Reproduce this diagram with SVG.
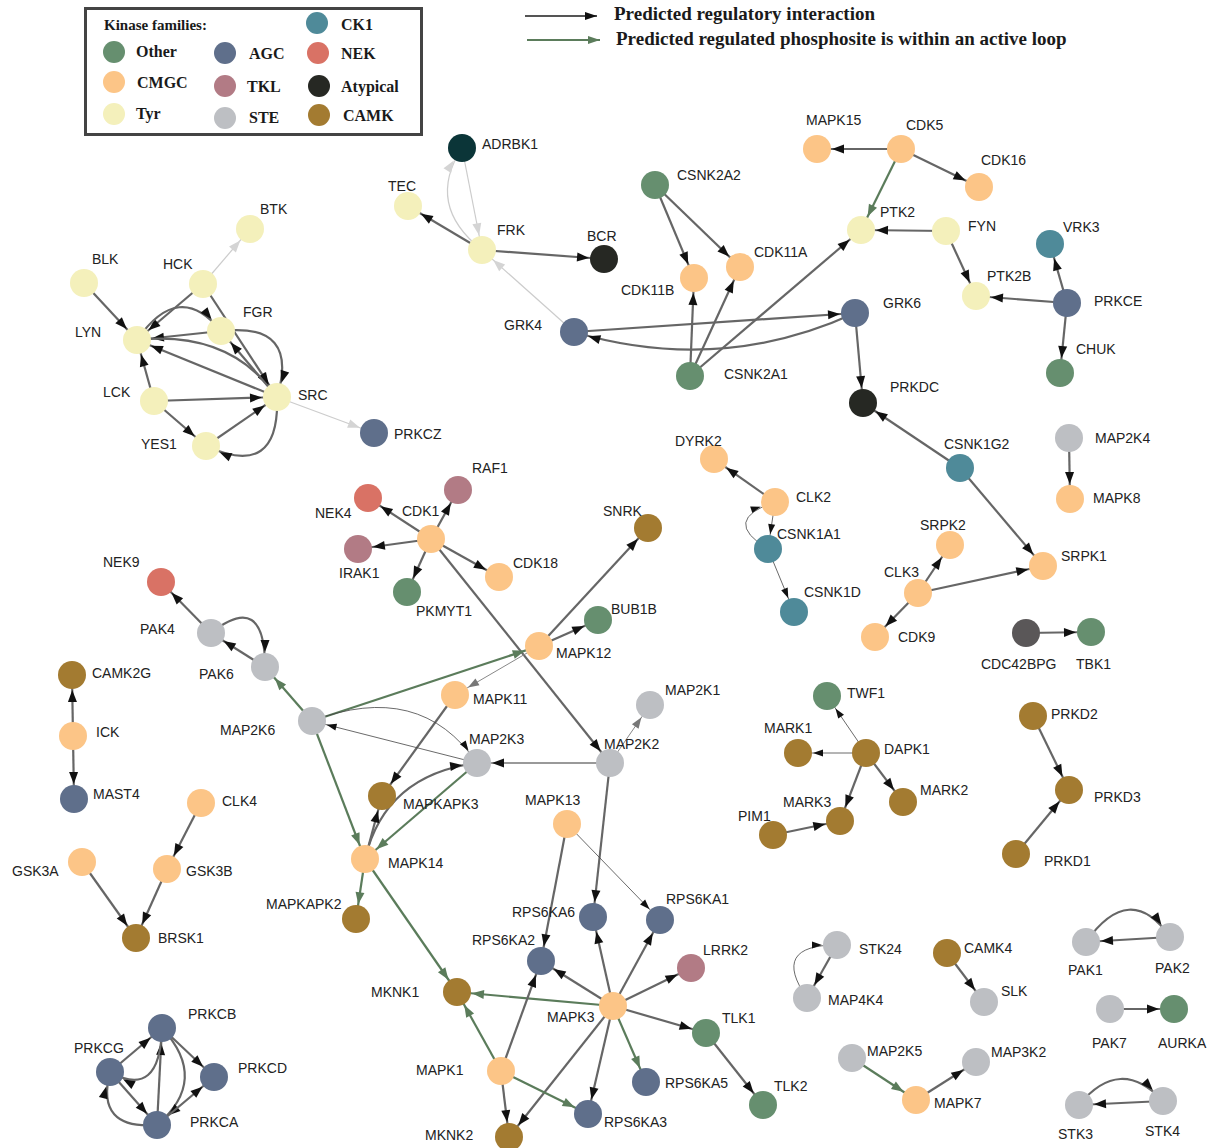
<svg xmlns="http://www.w3.org/2000/svg" width="1216" height="1148" viewBox="0 0 1216 1148">
<style>
.lb{font-family:"Liberation Sans",Arial,sans-serif;font-size:14px;fill:#222}
.lg{font-family:"Liberation Serif","Times New Roman",serif;font-weight:bold;fill:#1a1a1a}
.other{fill:#668f6f}.cmgc{fill:#fcc587}.tyr{fill:#f4f0bb}.agc{fill:#5f6f8b}.tkl{fill:#b27b85}
.ste{fill:#bdbfc3}.ck1{fill:#4f8a99}.nek{fill:#d97265}.atyp{fill:#262823}.camk{fill:#a37b31}
.adr{fill:#0b3538}.cdc{fill:#5a5758}
#edges path{fill:none}
.d{stroke:#666;stroke-width:2.2;marker-end:url(#ad)}
.d2{stroke:#777;stroke-width:1.5;marker-end:url(#ad)}
.g{stroke:#5b7c5b;stroke-width:2.2;marker-end:url(#ag)}
.t{stroke:#444;stroke-width:0.8;marker-end:url(#at)}
.m{stroke:#888;stroke-width:1;marker-end:url(#am)}
.l{stroke:#ccc;stroke-width:1.2;marker-end:url(#al)}
</style>
<defs>
<marker id="ad" markerUnits="userSpaceOnUse" orient="auto" markerWidth="1" markerHeight="1" style="overflow:visible"><path d="M-15,0 L-27,-4.5 L-27,4.5Z" fill="#111"/></marker>
<marker id="ag" markerUnits="userSpaceOnUse" orient="auto" markerWidth="1" markerHeight="1" style="overflow:visible"><path d="M-15,0 L-27,-4.5 L-27,4.5Z" fill="#5b7c5b"/></marker>
<marker id="at" markerUnits="userSpaceOnUse" orient="auto" markerWidth="1" markerHeight="1" style="overflow:visible"><path d="M-15,0 L-25,-3.5 L-25,3.5Z" fill="#111"/></marker>
<marker id="am" markerUnits="userSpaceOnUse" orient="auto" markerWidth="1" markerHeight="1" style="overflow:visible"><path d="M-15,0 L-26,-4 L-26,4Z" fill="#777"/></marker>
<marker id="al" markerUnits="userSpaceOnUse" orient="auto" markerWidth="1" markerHeight="1" style="overflow:visible"><path d="M-15,0 L-27,-4.5 L-27,4.5Z" fill="#d4d4d4"/></marker>
<marker id="lgd" markerUnits="userSpaceOnUse" orient="auto" markerWidth="1" markerHeight="1" style="overflow:visible"><path d="M0,0 L-12,-4 L-12,4Z" fill="#111"/></marker>
<marker id="lgg" markerUnits="userSpaceOnUse" orient="auto" markerWidth="1" markerHeight="1" style="overflow:visible"><path d="M0,0 L-12,-4 L-12,4Z" fill="#5b7c5b"/></marker>
</defs>
<rect width="1216" height="1148" fill="#fff"/>

<g id="legend">
<rect x="85.5" y="8.5" width="336" height="126" fill="#fff" stroke="#444" stroke-width="3"/>
<text class="lg" x="104" y="30" font-size="15">Kinase families:</text>
<circle cx="317" cy="23" r="11" class="ck1"/><text class="lg" x="341" y="30" font-size="16">CK1</text>
<circle cx="114" cy="52" r="11" class="other"/><text class="lg" x="136" y="57" font-size="16">Other</text>
<circle cx="225" cy="53" r="11" class="agc"/><text class="lg" x="249" y="59" font-size="16">AGC</text>
<circle cx="318" cy="53" r="11" class="nek"/><text class="lg" x="341" y="59" font-size="16">NEK</text>
<circle cx="114" cy="82" r="11" class="cmgc"/><text class="lg" x="137" y="88" font-size="16">CMGC</text>
<circle cx="225" cy="86" r="11" class="tkl"/><text class="lg" x="247" y="92" font-size="16">TKL</text>
<circle cx="319" cy="86" r="11" class="atyp"/><text class="lg" x="341" y="92" font-size="16">Atypical</text>
<circle cx="114" cy="114" r="11" class="tyr"/><text class="lg" x="136" y="119" font-size="16">Tyr</text>
<circle cx="225" cy="118" r="11" class="ste"/><text class="lg" x="249" y="123" font-size="16">STE</text>
<circle cx="319" cy="115" r="11" class="camk"/><text class="lg" x="343" y="121" font-size="16">CAMK</text>
</g>
<g id="legend-edges">
<path d="M525,16 L597,16" stroke="#555" stroke-width="1.8" marker-end="url(#lgd)"/>
<text class="lg" x="614" y="20" font-size="19">Predicted regulatory interaction</text>
<path d="M527,40 L600,40" stroke="#5b7c5b" stroke-width="1.8" marker-end="url(#lgg)"/>
<text class="lg" x="616" y="45" font-size="19">Predicted regulated phosphosite is within an active loop</text>
</g>

<g id="edges">
<path class="l" d="M203,284 L250,229"/>
<path class="d" d="M84,283 L137,340"/>
<path class="d" d="M203,284 L137,340"/>
<path class="d" d="M137,340 Q179,279 221,331"/>
<path class="d" d="M221,331 L137,340"/>
<path class="d" d="M203,284 L277,397"/>
<path class="d" d="M221,331 Q300,322 277,397"/>
<path class="d" d="M137,340 Q230,330 277,397"/>
<path class="d" d="M277,397 L137,340"/>
<path class="d" d="M277,397 L221,331"/>
<path class="d" d="M154,401 L137,340"/>
<path class="d" d="M154,401 L277,397"/>
<path class="d" d="M154,401 L206,446"/>
<path class="d" d="M206,446 L277,397"/>
<path class="d" d="M277,397 Q280,480 206,446"/>
<path class="l" d="M277,397 L374,433"/>
<path class="l" d="M482,250 Q425,205 462,148"/>
<path class="l" d="M462,148 L482,250"/>
<path class="d" d="M482,250 L408,206"/>
<path class="d" d="M482,250 L604,259"/>
<path class="l" d="M574,332 L482,250"/>
<path class="d" d="M655,185 L694,278"/>
<path class="d" d="M655,185 L740,267"/>
<path class="d" d="M690,376 L694,278"/>
<path class="d" d="M690,376 L740,267"/>
<path class="d" d="M690,376 L861,230"/>
<path class="d" d="M901,149 L817,149"/>
<path class="d" d="M901,149 L979,187"/>
<path class="g" d="M901,149 L861,230"/>
<path class="d" d="M946,231 L861,230"/>
<path class="d" d="M946,231 L976,296"/>
<path class="d" d="M1067,303 L1050,244"/>
<path class="d" d="M1067,303 L976,296"/>
<path class="d" d="M1067,303 L1060,373"/>
<path class="d" d="M574,332 L855,313"/>
<path class="d" d="M855,313 Q720,375 574,332"/>
<path class="d" d="M855,313 L863,403"/>
<path class="d" d="M960,468 L863,403"/>
<path class="d" d="M960,468 L1043,566"/>
<path class="d" d="M431,539 L458,490"/>
<path class="d" d="M431,539 L368,498"/>
<path class="d" d="M431,539 L358,549"/>
<path class="d" d="M431,539 L407,592"/>
<path class="d" d="M431,539 L499,577"/>
<path class="d" d="M431,539 L610,763"/>
<path class="d" d="M539,646 L648,528"/>
<path class="d" d="M539,646 L598,620"/>
<path class="g" d="M312,721 L539,646"/>
<path class="m" d="M539,646 L455,695"/>
<path class="d" d="M455,695 L382,796"/>
<path class="t" d="M312,721 Q420,680 477,763"/>
<path class="t" d="M477,763 L312,721"/>
<path class="d2" d="M610,763 L477,763"/>
<path class="m" d="M610,763 L650,705"/>
<path class="g" d="M477,763 L365,859"/>
<path class="d" d="M365,859 Q385,775 477,763"/>
<path class="d" d="M365,859 L382,796"/>
<path class="g" d="M312,721 L365,859"/>
<path class="g" d="M312,721 L265,667"/>
<path class="g" d="M365,859 L356,919"/>
<path class="g" d="M365,859 L457,992"/>
<path class="d" d="M610,763 L593,917"/>
<path class="d" d="M211,633 L161,582"/>
<path class="d" d="M265,667 L211,633"/>
<path class="d" d="M211,633 Q265,590 265,667"/>
<path class="d" d="M73,736 L72,675"/>
<path class="d" d="M73,736 L74,799"/>
<path class="d" d="M201,803 L167,869"/>
<path class="d" d="M167,869 L136,938"/>
<path class="d" d="M82,862 L136,938"/>
<path class="d" d="M775,502 L714,459"/>
<path class="t" d="M775,502 L768,549"/>
<path class="t" d="M768,549 Q720,520 775,502"/>
<path class="t" d="M768,549 L794,612"/>
<path class="d" d="M1069,438 L1070,499"/>
<path class="d" d="M918,593 L950,545"/>
<path class="d" d="M918,593 L875,637"/>
<path class="d" d="M918,593 L1043,566"/>
<path class="d" d="M1026,633 L1091,632"/>
<path class="t" d="M866,753 L827,696"/>
<path class="t" d="M866,753 L798,753"/>
<path class="d" d="M866,753 L840,821"/>
<path class="d" d="M866,753 L903,802"/>
<path class="d" d="M773,835 L840,821"/>
<path class="d" d="M1033,716 L1069,790"/>
<path class="d" d="M1016,854 L1069,790"/>
<path class="d" d="M567,824 L541,961"/>
<path class="t" d="M567,824 L660,920"/>
<path class="d" d="M613,1006 L593,917"/>
<path class="d" d="M613,1006 L660,920"/>
<path class="d" d="M613,1006 L541,961"/>
<path class="d" d="M613,1006 L691,968"/>
<path class="g" d="M613,1006 L457,992"/>
<path class="d" d="M613,1006 L706,1033"/>
<path class="g" d="M613,1006 L646,1082"/>
<path class="d" d="M613,1006 L588,1114"/>
<path class="d" d="M613,1006 L509,1137"/>
<path class="d" d="M501,1071 L541,961"/>
<path class="g" d="M501,1071 L457,992"/>
<path class="g" d="M501,1071 L588,1114"/>
<path class="d" d="M501,1071 L509,1137"/>
<path class="d" d="M706,1033 L763,1105"/>
<path class="d" d="M110,1072 L162,1028"/>
<path class="d" d="M110,1072 L157,1125"/>
<path class="d" d="M157,1125 L162,1028"/>
<path class="d" d="M162,1028 Q160,1100 110,1072"/>
<path class="d" d="M162,1028 L214,1077"/>
<path class="d" d="M162,1028 Q210,1080 157,1125"/>
<path class="d" d="M157,1125 L214,1077"/>
<path class="d" d="M157,1125 Q95,1130 110,1072"/>
<path class="d" d="M837,945 L807,998"/>
<path class="t" d="M807,998 Q770,945 837,945"/>
<path class="d" d="M947,953 L984,1002"/>
<path class="d" d="M1086,942 Q1130,880 1170,937"/>
<path class="d" d="M1170,937 L1086,942"/>
<path class="d" d="M1110,1009 L1174,1009"/>
<path class="g" d="M852,1058 L916,1100"/>
<path class="d" d="M916,1100 L976,1062"/>
<path class="d" d="M1079,1105 Q1120,1055 1163,1101"/>
<path class="d" d="M1163,1101 L1079,1105"/>
</g>

<g id="n-BTK"><circle cx="250" cy="229" r="14" class="tyr"/><text class="lb" x="260" y="214">BTK</text></g>
<g id="n-BLK"><circle cx="84" cy="283" r="14" class="tyr"/><text class="lb" x="92" y="264">BLK</text></g>
<g id="n-HCK"><circle cx="203" cy="284" r="14" class="tyr"/><text class="lb" x="163" y="269">HCK</text></g>
<g id="n-FGR"><circle cx="221" cy="331" r="14" class="tyr"/><text class="lb" x="243" y="317">FGR</text></g>
<g id="n-LYN"><circle cx="137" cy="340" r="14" class="tyr"/><text class="lb" x="75" y="337">LYN</text></g>
<g id="n-LCK"><circle cx="154" cy="401" r="14" class="tyr"/><text class="lb" x="103" y="397">LCK</text></g>
<g id="n-SRC"><circle cx="277" cy="397" r="14" class="tyr"/><text class="lb" x="298" y="400">SRC</text></g>
<g id="n-YES1"><circle cx="206" cy="446" r="14" class="tyr"/><text class="lb" x="141" y="449">YES1</text></g>
<g id="n-PRKCZ"><circle cx="374" cy="433" r="14" class="agc"/><text class="lb" x="394" y="439">PRKCZ</text></g>
<g id="n-TEC"><circle cx="408" cy="206" r="14" class="tyr"/><text class="lb" x="388" y="191">TEC</text></g>
<g id="n-FRK"><circle cx="482" cy="250" r="14" class="tyr"/><text class="lb" x="497" y="235">FRK</text></g>
<g id="n-ADRBK1"><circle cx="462" cy="148" r="14" class="adr"/><text class="lb" x="482" y="149">ADRBK1</text></g>
<g id="n-BCR"><circle cx="604" cy="259" r="14" class="atyp"/><text class="lb" x="587" y="241">BCR</text></g>
<g id="n-GRK4"><circle cx="574" cy="332" r="14" class="agc"/><text class="lb" x="504" y="330">GRK4</text></g>
<g id="n-CSNK2A2"><circle cx="655" cy="185" r="14" class="other"/><text class="lb" x="677" y="180">CSNK2A2</text></g>
<g id="n-CDK11B"><circle cx="694" cy="278" r="14" class="cmgc"/><text class="lb" x="621" y="295">CDK11B</text></g>
<g id="n-CDK11A"><circle cx="740" cy="267" r="14" class="cmgc"/><text class="lb" x="754" y="257">CDK11A</text></g>
<g id="n-MAPK15"><circle cx="817" cy="149" r="14" class="cmgc"/><text class="lb" x="806" y="125">MAPK15</text></g>
<g id="n-CDK5"><circle cx="901" cy="149" r="14" class="cmgc"/><text class="lb" x="906" y="130">CDK5</text></g>
<g id="n-CDK16"><circle cx="979" cy="187" r="14" class="cmgc"/><text class="lb" x="981" y="165">CDK16</text></g>
<g id="n-PTK2"><circle cx="861" cy="230" r="14" class="tyr"/><text class="lb" x="880" y="217">PTK2</text></g>
<g id="n-FYN"><circle cx="946" cy="231" r="14" class="tyr"/><text class="lb" x="968" y="231">FYN</text></g>
<g id="n-PTK2B"><circle cx="976" cy="296" r="14" class="tyr"/><text class="lb" x="987" y="281">PTK2B</text></g>
<g id="n-VRK3"><circle cx="1050" cy="244" r="14" class="ck1"/><text class="lb" x="1063" y="232">VRK3</text></g>
<g id="n-PRKCE"><circle cx="1067" cy="303" r="14" class="agc"/><text class="lb" x="1094" y="306">PRKCE</text></g>
<g id="n-CHUK"><circle cx="1060" cy="373" r="14" class="other"/><text class="lb" x="1076" y="354">CHUK</text></g>
<g id="n-GRK6"><circle cx="855" cy="313" r="14" class="agc"/><text class="lb" x="883" y="308">GRK6</text></g>
<g id="n-CSNK2A1"><circle cx="690" cy="376" r="14" class="other"/><text class="lb" x="724" y="379">CSNK2A1</text></g>
<g id="n-PRKDC"><circle cx="863" cy="403" r="14" class="atyp"/><text class="lb" x="890" y="392">PRKDC</text></g>
<g id="n-RAF1"><circle cx="458" cy="490" r="14" class="tkl"/><text class="lb" x="472" y="473">RAF1</text></g>
<g id="n-NEK4"><circle cx="368" cy="498" r="14" class="nek"/><text class="lb" x="315" y="518">NEK4</text></g>
<g id="n-CDK1"><circle cx="431" cy="539" r="14" class="cmgc"/><text class="lb" x="402" y="516">CDK1</text></g>
<g id="n-IRAK1"><circle cx="358" cy="549" r="14" class="tkl"/><text class="lb" x="339" y="578">IRAK1</text></g>
<g id="n-CDK18"><circle cx="499" cy="577" r="14" class="cmgc"/><text class="lb" x="513" y="568">CDK18</text></g>
<g id="n-PKMYT1"><circle cx="407" cy="592" r="14" class="other"/><text class="lb" x="416" y="616">PKMYT1</text></g>
<g id="n-SNRK"><circle cx="648" cy="528" r="14" class="camk"/><text class="lb" x="603" y="516">SNRK</text></g>
<g id="n-BUB1B"><circle cx="598" cy="620" r="14" class="other"/><text class="lb" x="611" y="614">BUB1B</text></g>
<g id="n-MAPK12"><circle cx="539" cy="646" r="14" class="cmgc"/><text class="lb" x="556" y="658">MAPK12</text></g>
<g id="n-MAPK11"><circle cx="455" cy="695" r="14" class="cmgc"/><text class="lb" x="473" y="704">MAPK11</text></g>
<g id="n-MAP2K1"><circle cx="650" cy="705" r="14" class="ste"/><text class="lb" x="665" y="695">MAP2K1</text></g>
<g id="n-MAP2K3"><circle cx="477" cy="763" r="14" class="ste"/><text class="lb" x="469" y="744">MAP2K3</text></g>
<g id="n-MAP2K2"><circle cx="610" cy="763" r="14" class="ste"/><text class="lb" x="604" y="749">MAP2K2</text></g>
<g id="n-MAP2K6"><circle cx="312" cy="721" r="14" class="ste"/><text class="lb" x="220" y="735">MAP2K6</text></g>
<g id="n-NEK9"><circle cx="161" cy="582" r="14" class="nek"/><text class="lb" x="103" y="567">NEK9</text></g>
<g id="n-PAK4"><circle cx="211" cy="633" r="14" class="ste"/><text class="lb" x="140" y="634">PAK4</text></g>
<g id="n-PAK6"><circle cx="265" cy="667" r="14" class="ste"/><text class="lb" x="199" y="679">PAK6</text></g>
<g id="n-CAMK2G"><circle cx="72" cy="675" r="14" class="camk"/><text class="lb" x="92" y="678">CAMK2G</text></g>
<g id="n-ICK"><circle cx="73" cy="736" r="14" class="cmgc"/><text class="lb" x="96" y="737">ICK</text></g>
<g id="n-MAST4"><circle cx="74" cy="799" r="14" class="agc"/><text class="lb" x="93" y="799">MAST4</text></g>
<g id="n-CLK4"><circle cx="201" cy="803" r="14" class="cmgc"/><text class="lb" x="222" y="806">CLK4</text></g>
<g id="n-GSK3A"><circle cx="82" cy="862" r="14" class="cmgc"/><text class="lb" x="12" y="876">GSK3A</text></g>
<g id="n-GSK3B"><circle cx="167" cy="869" r="14" class="cmgc"/><text class="lb" x="186" y="876">GSK3B</text></g>
<g id="n-BRSK1"><circle cx="136" cy="938" r="14" class="camk"/><text class="lb" x="158" y="943">BRSK1</text></g>
<g id="n-DYRK2"><circle cx="714" cy="459" r="14" class="cmgc"/><text class="lb" x="675" y="446">DYRK2</text></g>
<g id="n-CLK2"><circle cx="775" cy="502" r="14" class="cmgc"/><text class="lb" x="796" y="502">CLK2</text></g>
<g id="n-CSNK1A1"><circle cx="768" cy="549" r="14" class="ck1"/><text class="lb" x="777" y="539">CSNK1A1</text></g>
<g id="n-CSNK1D"><circle cx="794" cy="612" r="14" class="ck1"/><text class="lb" x="804" y="597">CSNK1D</text></g>
<g id="n-CSNK1G2"><circle cx="960" cy="468" r="14" class="ck1"/><text class="lb" x="944" y="449">CSNK1G2</text></g>
<g id="n-MAP2K4"><circle cx="1069" cy="438" r="14" class="ste"/><text class="lb" x="1095" y="443">MAP2K4</text></g>
<g id="n-MAPK8"><circle cx="1070" cy="499" r="14" class="cmgc"/><text class="lb" x="1093" y="503">MAPK8</text></g>
<g id="n-SRPK2"><circle cx="950" cy="545" r="14" class="cmgc"/><text class="lb" x="920" y="530">SRPK2</text></g>
<g id="n-CLK3"><circle cx="918" cy="593" r="14" class="cmgc"/><text class="lb" x="884" y="577">CLK3</text></g>
<g id="n-SRPK1"><circle cx="1043" cy="566" r="14" class="cmgc"/><text class="lb" x="1061" y="561">SRPK1</text></g>
<g id="n-CDK9"><circle cx="875" cy="637" r="14" class="cmgc"/><text class="lb" x="898" y="642">CDK9</text></g>
<g id="n-CDC42BPG"><circle cx="1026" cy="633" r="14" class="cdc"/><text class="lb" x="981" y="669">CDC42BPG</text></g>
<g id="n-TBK1"><circle cx="1091" cy="632" r="14" class="other"/><text class="lb" x="1076" y="669">TBK1</text></g>
<g id="n-TWF1"><circle cx="827" cy="696" r="14" class="other"/><text class="lb" x="847" y="698">TWF1</text></g>
<g id="n-MARK1"><circle cx="798" cy="753" r="14" class="camk"/><text class="lb" x="764" y="733">MARK1</text></g>
<g id="n-DAPK1"><circle cx="866" cy="753" r="14" class="camk"/><text class="lb" x="884" y="754">DAPK1</text></g>
<g id="n-MARK2"><circle cx="903" cy="802" r="14" class="camk"/><text class="lb" x="920" y="795">MARK2</text></g>
<g id="n-MARK3"><circle cx="840" cy="821" r="14" class="camk"/><text class="lb" x="783" y="807">MARK3</text></g>
<g id="n-PIM1"><circle cx="773" cy="835" r="14" class="camk"/><text class="lb" x="738" y="821">PIM1</text></g>
<g id="n-PRKD2"><circle cx="1033" cy="716" r="14" class="camk"/><text class="lb" x="1051" y="719">PRKD2</text></g>
<g id="n-PRKD3"><circle cx="1069" cy="790" r="14" class="camk"/><text class="lb" x="1094" y="802">PRKD3</text></g>
<g id="n-PRKD1"><circle cx="1016" cy="854" r="14" class="camk"/><text class="lb" x="1044" y="866">PRKD1</text></g>
<g id="n-MAPKAPK3"><circle cx="382" cy="796" r="14" class="camk"/><text class="lb" x="403" y="809">MAPKAPK3</text></g>
<g id="n-MAPK14"><circle cx="365" cy="859" r="14" class="cmgc"/><text class="lb" x="388" y="868">MAPK14</text></g>
<g id="n-MAPKAPK2"><circle cx="356" cy="919" r="14" class="camk"/><text class="lb" x="266" y="909">MAPKAPK2</text></g>
<g id="n-MAPK13"><circle cx="567" cy="824" r="14" class="cmgc"/><text class="lb" x="525" y="805">MAPK13</text></g>
<g id="n-RPS6KA6"><circle cx="593" cy="917" r="14" class="agc"/><text class="lb" x="512" y="917">RPS6KA6</text></g>
<g id="n-RPS6KA1"><circle cx="660" cy="920" r="14" class="agc"/><text class="lb" x="666" y="904">RPS6KA1</text></g>
<g id="n-RPS6KA2"><circle cx="541" cy="961" r="14" class="agc"/><text class="lb" x="472" y="945">RPS6KA2</text></g>
<g id="n-LRRK2"><circle cx="691" cy="968" r="14" class="tkl"/><text class="lb" x="703" y="955">LRRK2</text></g>
<g id="n-MKNK1"><circle cx="457" cy="992" r="14" class="camk"/><text class="lb" x="371" y="997">MKNK1</text></g>
<g id="n-MAPK3"><circle cx="613" cy="1006" r="14" class="cmgc"/><text class="lb" x="547" y="1022">MAPK3</text></g>
<g id="n-TLK1"><circle cx="706" cy="1033" r="14" class="other"/><text class="lb" x="722" y="1023">TLK1</text></g>
<g id="n-TLK2"><circle cx="763" cy="1105" r="14" class="other"/><text class="lb" x="774" y="1091">TLK2</text></g>
<g id="n-MAPK1"><circle cx="501" cy="1071" r="14" class="cmgc"/><text class="lb" x="416" y="1075">MAPK1</text></g>
<g id="n-RPS6KA5"><circle cx="646" cy="1082" r="14" class="agc"/><text class="lb" x="665" y="1088">RPS6KA5</text></g>
<g id="n-RPS6KA3"><circle cx="588" cy="1114" r="14" class="agc"/><text class="lb" x="604" y="1127">RPS6KA3</text></g>
<g id="n-MKNK2"><circle cx="509" cy="1137" r="14" class="camk"/><text class="lb" x="425" y="1140">MKNK2</text></g>
<g id="n-PRKCB"><circle cx="162" cy="1028" r="14" class="agc"/><text class="lb" x="188" y="1019">PRKCB</text></g>
<g id="n-PRKCG"><circle cx="110" cy="1072" r="14" class="agc"/><text class="lb" x="74" y="1053">PRKCG</text></g>
<g id="n-PRKCD"><circle cx="214" cy="1077" r="14" class="agc"/><text class="lb" x="238" y="1073">PRKCD</text></g>
<g id="n-PRKCA"><circle cx="157" cy="1125" r="14" class="agc"/><text class="lb" x="190" y="1127">PRKCA</text></g>
<g id="n-STK24"><circle cx="837" cy="945" r="14" class="ste"/><text class="lb" x="859" y="954">STK24</text></g>
<g id="n-MAP4K4"><circle cx="807" cy="998" r="14" class="ste"/><text class="lb" x="828" y="1005">MAP4K4</text></g>
<g id="n-CAMK4"><circle cx="947" cy="953" r="14" class="camk"/><text class="lb" x="964" y="953">CAMK4</text></g>
<g id="n-SLK"><circle cx="984" cy="1002" r="14" class="ste"/><text class="lb" x="1001" y="996">SLK</text></g>
<g id="n-PAK1"><circle cx="1086" cy="942" r="14" class="ste"/><text class="lb" x="1068" y="975">PAK1</text></g>
<g id="n-PAK2"><circle cx="1170" cy="937" r="14" class="ste"/><text class="lb" x="1155" y="973">PAK2</text></g>
<g id="n-PAK7"><circle cx="1110" cy="1009" r="14" class="ste"/><text class="lb" x="1092" y="1048">PAK7</text></g>
<g id="n-AURKA"><circle cx="1174" cy="1009" r="14" class="other"/><text class="lb" x="1158" y="1048">AURKA</text></g>
<g id="n-MAP2K5"><circle cx="852" cy="1058" r="14" class="ste"/><text class="lb" x="867" y="1056">MAP2K5</text></g>
<g id="n-MAPK7"><circle cx="916" cy="1100" r="14" class="cmgc"/><text class="lb" x="934" y="1108">MAPK7</text></g>
<g id="n-MAP3K2"><circle cx="976" cy="1062" r="14" class="ste"/><text class="lb" x="991" y="1057">MAP3K2</text></g>
<g id="n-STK3"><circle cx="1079" cy="1105" r="14" class="ste"/><text class="lb" x="1058" y="1139">STK3</text></g>
<g id="n-STK4"><circle cx="1163" cy="1101" r="14" class="ste"/><text class="lb" x="1145" y="1136">STK4</text></g>
</svg>
